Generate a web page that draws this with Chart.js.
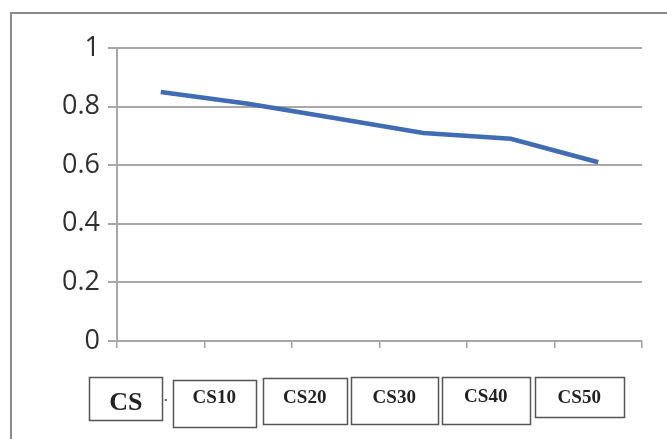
<!DOCTYPE html>
<html>
<head>
<meta charset="utf-8">
<title>CS line chart</title>
<script src="https://cdn.jsdelivr.net/npm/chart.js@4"></script>
<style>
  html, body { margin: 0; padding: 0; background: #fff; }
  #wrap { width: 667px; height: 439px; position: relative; }
</style>
</head>
<body>
<div id="wrap"><canvas id="chart" width="667" height="439"></canvas></div>
<script>
// Data
const categories = ['CS', 'CS10', 'CS20', 'CS30', 'CS40', 'CS50'];
const values = [0.85, 0.81, 0.76, 0.71, 0.69, 0.61];
const yTicks = [0, 0.2, 0.4, 0.6, 0.8, 1];

// Boxed category labels under the axis (offset from category centre and axis)
const boxStyle = [
  { dx: -35, w: 73, top: 36, h: 43, ty: 62, font: 'bold 26px "Liberation Serif"' },
  { dx: -34, w: 83, top: 39, h: 47, ty: 57, font: 'bold 19px "Liberation Serif"' },
  { dx: -31, w: 84, top: 37, h: 46, ty: 57, font: 'bold 19px "Liberation Serif"' },
  { dx: -29, w: 87, top: 36, h: 47, ty: 57, font: 'bold 19px "Liberation Serif"' },
  { dx: -25, w: 88, top: 36, h: 47, ty: 56, font: 'bold 19px "Liberation Serif"' },
  { dx: -19, w: 89, top: 36, h: 40, ty: 57, font: 'bold 19px "Liberation Serif"' }
];

const frameAndBoxes = {
  id: 'frameAndBoxes',
  beforeDraw(chart) {
    const ctx = chart.ctx;
    ctx.save();
    ctx.strokeStyle = '#8a8a8a';
    ctx.lineWidth = 2;
    ctx.beginPath();
    ctx.moveTo(11, chart.height);
    ctx.lineTo(11, 13);
    ctx.lineTo(chart.width, 13);
    ctx.stroke();
    ctx.restore();
  },
  afterDraw(chart) {
    const ctx = chart.ctx;
    const xs = chart.scales.x;
    const base = chart.chartArea.bottom;
    ctx.save();
    categories.forEach((label, i) => {
      const s = boxStyle[i];
      const cx = xs.getPixelForValue(i) + s.dx;
      const top = base + s.top;
      ctx.strokeStyle = '#555';
      ctx.lineWidth = 1.5;
      ctx.strokeRect(Math.round(cx - s.w / 2) + 0.5, Math.round(top) + 0.5, s.w, s.h);
      ctx.fillStyle = '#222';
      ctx.font = s.font;
      ctx.textAlign = 'center';
      ctx.textBaseline = 'middle';
      ctx.fillText(label, cx, base + s.ty);
    });
    // small speck between the first two boxes
    ctx.fillStyle = '#555';
    ctx.fillRect(xs.getPixelForValue(0) + 4, base + 58, 2, 2);
    ctx.restore();
  }
};

new Chart(document.getElementById('chart'), {
  type: 'line',
  data: {
    labels: categories,
    datasets: [{
      data: values,
      borderColor: '#3f6cb3',
      borderWidth: 4.5,
      pointRadius: 0,
      tension: 0,
      fill: false
    }]
  },
  options: {
    responsive: false,
    animation: false,
    layout: { padding: { top: 48, right: 25, left: 0, bottom: 0 } },
    plugins: { legend: { display: false }, tooltip: { enabled: false } },
    scales: {
      x: {
        offset: true,
        grid: {
          offset: true,
          drawOnChartArea: false,
          drawTicks: true,
          tickLength: 7,
          color: '#a0a0a0',
          lineWidth: 1.5
        },
        border: { color: '#a6a6a6', width: 2 },
        ticks: { display: false },
        afterFit(scale) { scale.height = 98; }
      },
      y: {
        min: 0,
        max: 1,
        afterBuildTicks(scale) { scale.ticks = yTicks.map(v => ({ value: v })); },
        grid: {
          color: '#a8a8a8',
          lineWidth: 2,
          drawTicks: true,
          tickLength: 9
        },
        border: { color: '#a8a8a8', width: 2 },
        ticks: {
          padding: 8,
          color: '#2e2e2e',
          font: { family: 'Open Sans', size: 27 },
          callback: v => String(v)
        },
        afterFit(scale) { scale.width = 117; }
      }
    }
  },
  plugins: [frameAndBoxes]
});
</script>
</body>
</html>
